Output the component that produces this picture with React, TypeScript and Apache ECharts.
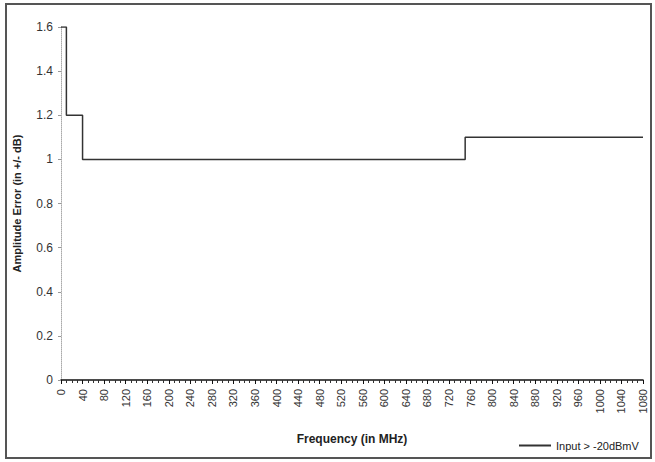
import React, { useEffect, useRef } from "react";
import * as echarts from "echarts";

const freqPoints = [0, 10, 40, 750, 1080];
const errorValues = [1.6, 1.2, 1.0, 1.1, 1.1];
const seriesName = "Input > -20dBmV";
const xTitle = "Frequency (in MHz)";
const yTitle = "Amplitude Error (in +/- dB)";

export default function App() {
  const ref = useRef<HTMLDivElement>(null);
  useEffect(() => {
    if (!ref.current) return;
    const chart = echarts.init(ref.current, undefined, { renderer: "svg" });
    const font = "Liberation Sans, Arial, sans-serif";
    chart.setOption({
      animation: false,
      backgroundColor: "#fff",
      grid: { left: 61, right: 12, top: 27, bottom: 82 },
      legend: {
        left: 514,
        top: 435,
        itemWidth: 32,
        itemHeight: 2,
        itemGap: 4,
        icon: "rect",
        textStyle: { fontFamily: font, fontSize: 11, color: "#222" },
        data: [seriesName],
      },
      graphic: [
        {
          type: "rect",
          shape: { x: 6, y: 4, width: 645, height: 454 },
          style: { fill: "none", stroke: "#555", lineWidth: 2 },
          silent: true,
        },
      ],
      xAxis: {
        type: "value",
        min: 0,
        max: 1080,
        interval: 40,
        name: xTitle,
        nameLocation: "middle",
        nameGap: 53,
        nameTextStyle: {
          fontFamily: font,
          fontSize: 12,
          fontWeight: "bold",
          color: "#222",
        },
        axisLine: { lineStyle: { color: "#111", width: 1.5 } },
        axisTick: { length: 4, lineStyle: { color: "#111" } },
        minorTick: { show: true, splitNumber: 4, length: 3, lineStyle: { color: "#333" } },
        splitLine: { show: false },
        axisLabel: {
          rotate: 90,
          margin: 9,
          fontFamily: font,
          fontSize: 11,
          color: "#333",
          formatter: (v: number) => String(v),
        },
      },
      yAxis: {
        type: "value",
        min: 0,
        max: 1.6,
        interval: 0.2,
        name: yTitle,
        nameLocation: "middle",
        nameGap: 39,
        nameTextStyle: {
          fontFamily: font,
          fontSize: 11,
          fontWeight: "bold",
          color: "#222",
        },
        axisLine: { show: true, lineStyle: { color: "#aaa", type: "dotted", width: 1 } },
        axisTick: { show: true, length: 3, lineStyle: { color: "#999" } },
        splitLine: { show: false },
        axisLabel: {
          margin: 8,
          fontFamily: font,
          fontSize: 12,
          color: "#333",
          formatter: (v: number) => String(Math.round(v * 10) / 10),
        },
      },
      series: [
        {
          name: seriesName,
          type: "line",
          step: "end",
          showSymbol: false,
          symbol: "none",
          color: "#333",
          lineStyle: { color: "#333", width: 1.5 },
          data: freqPoints.map((f, i) => [f, errorValues[i]]),
        },
      ],
    });
    return () => chart.dispose();
  }, []);
  return (
    <div
      ref={ref}
      style={{ position: "absolute", left: 0, top: 0, width: 655, height: 462 }}
    />
  );
}
